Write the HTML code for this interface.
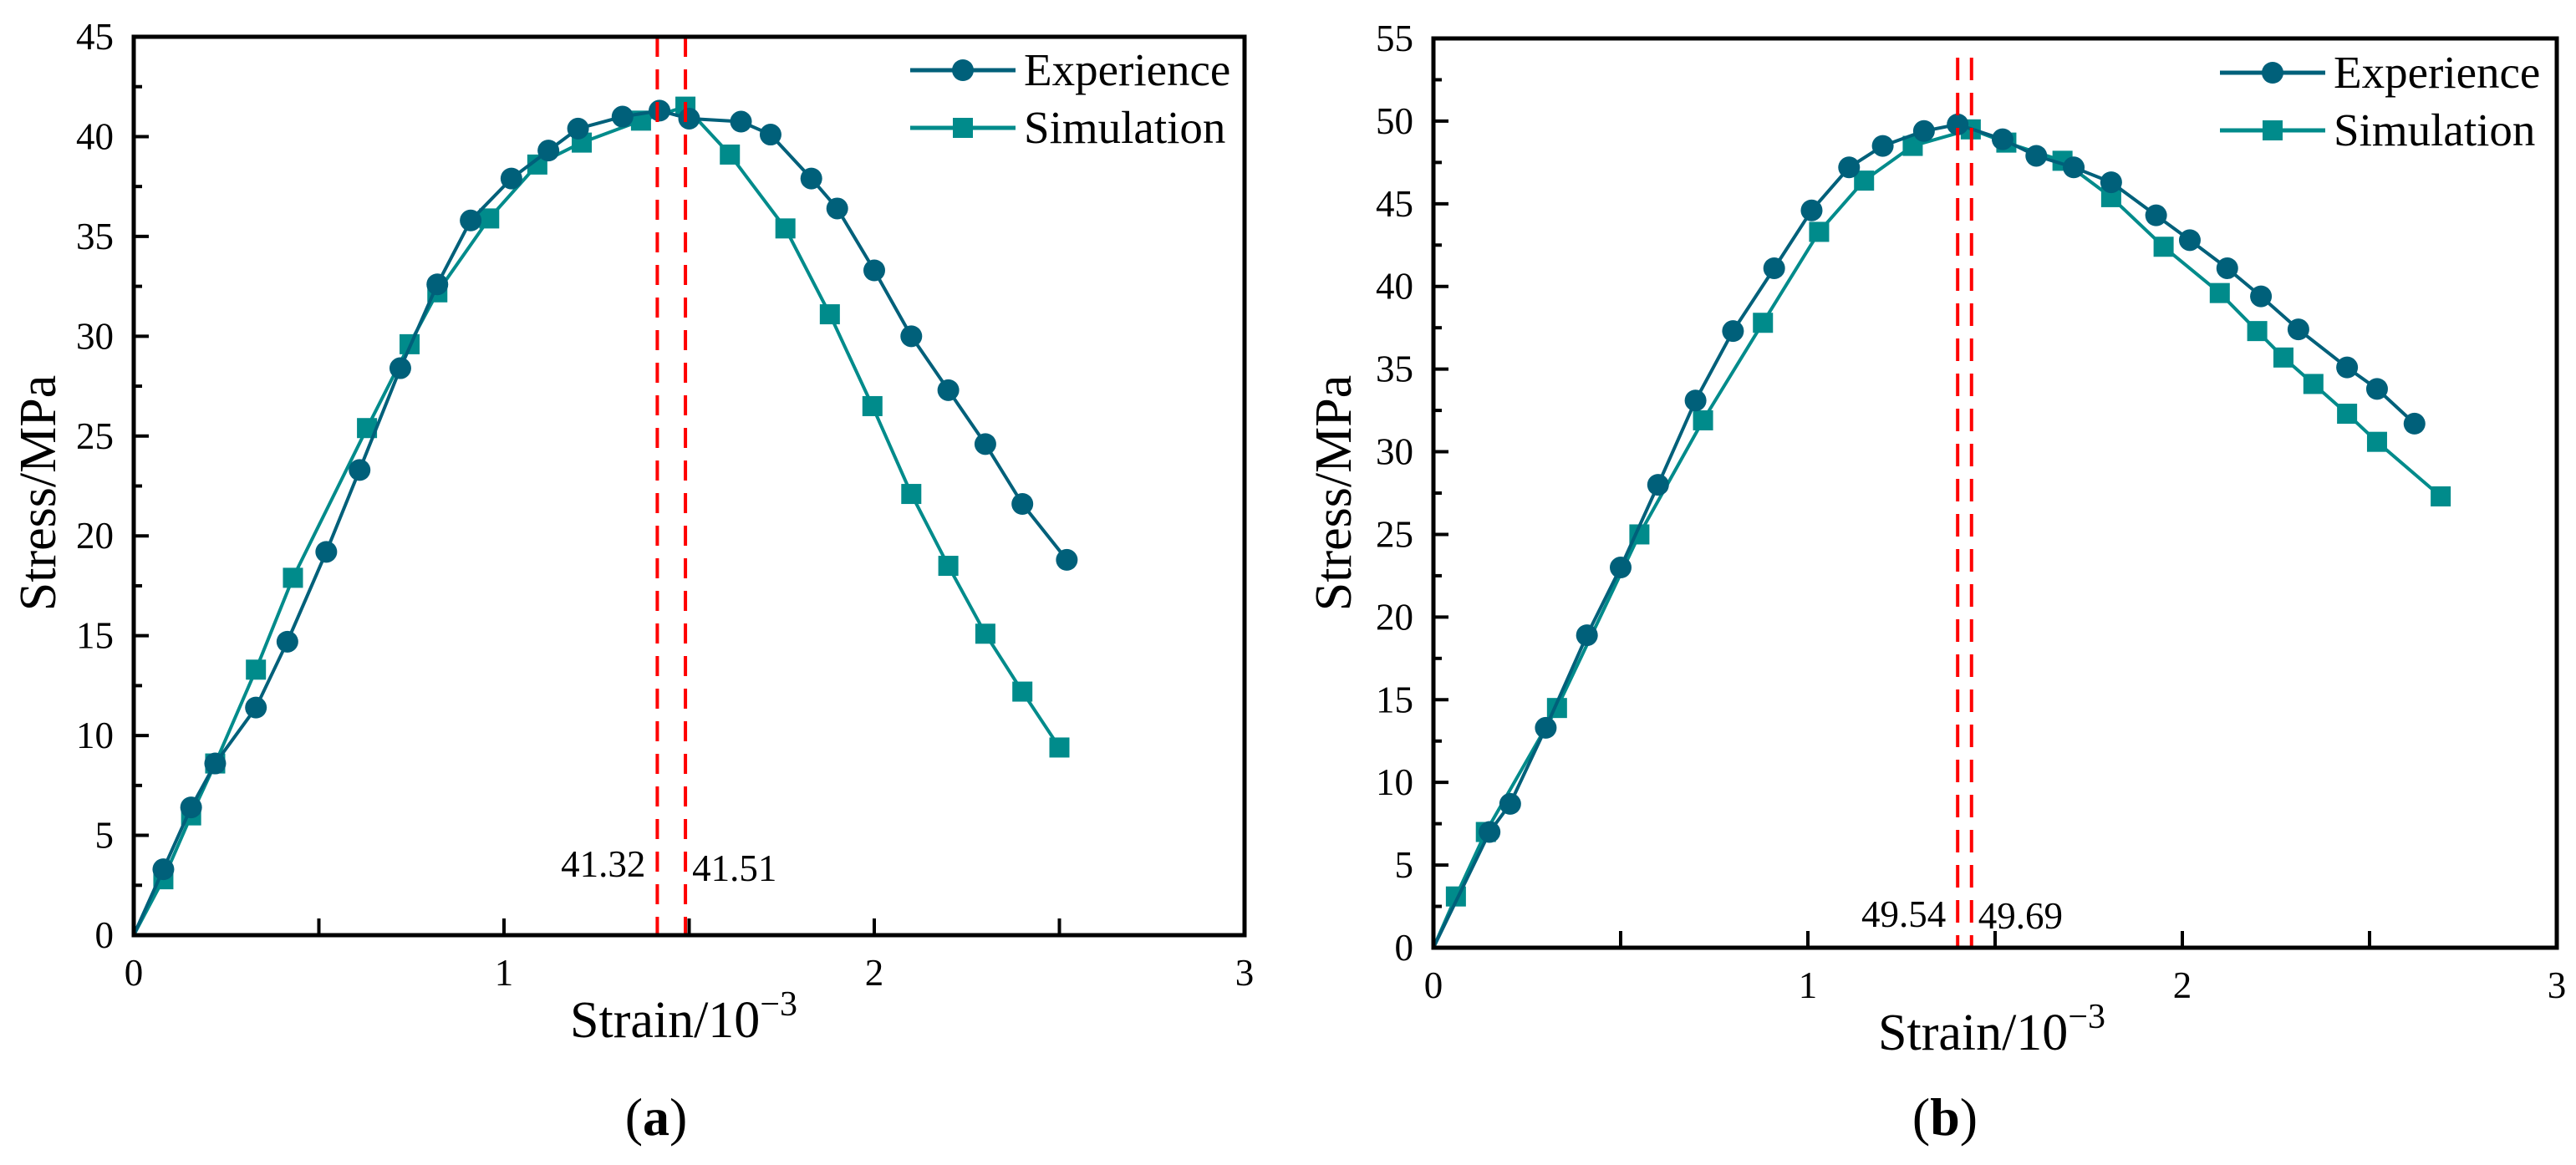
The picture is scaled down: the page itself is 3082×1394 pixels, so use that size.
<!DOCTYPE html>
<html><head><meta charset="utf-8"><style>
html,body{margin:0;padding:0;background:#fff;}
svg{display:block;font-family:"Liberation Serif",serif;}
</style></head><body>
<svg id="root" width="3082" height="1394" viewBox="0 0 3082 1394" xmlns="http://www.w3.org/2000/svg"></svg>
<script>
// ---- data ----
const expA_x=[0,0.08,0.155,0.22,0.33,0.415,0.52,0.61,0.72,0.82,0.91,1.02,1.12,1.20,1.32,1.42,1.50,1.64,1.72,1.83,1.90,2.00,2.10,2.20,2.30,2.40,2.52];
const expA_y=[0,3.3,6.4,8.6,11.4,14.7,19.2,23.3,28.4,32.6,35.8,37.9,39.3,40.4,41.0,41.3,40.9,40.75,40.1,37.9,36.4,33.3,30.0,27.3,24.6,21.6,18.8];
const simA_x=[0,0.08,0.155,0.22,0.33,0.43,0.63,0.745,0.82,0.96,1.09,1.21,1.37,1.49,1.61,1.76,1.88,1.995,2.10,2.20,2.30,2.40,2.50];
const simA_y=[0,2.8,6.0,8.6,13.3,17.9,25.4,29.6,32.2,35.9,38.6,39.7,40.8,41.5,39.1,35.4,31.1,26.5,22.1,18.5,15.1,12.2,9.4];
const expB_x=[0,0.15,0.205,0.30,0.41,0.50,0.60,0.70,0.80,0.91,1.01,1.11,1.20,1.31,1.40,1.52,1.61,1.71,1.81,1.93,2.02,2.12,2.21,2.31,2.44,2.52,2.62];
const expB_y=[0,7.0,8.7,13.3,18.9,23.0,28.0,33.1,37.3,41.1,44.6,47.2,48.5,49.4,49.8,48.9,47.9,47.2,46.3,44.3,42.8,41.1,39.4,37.4,35.1,33.8,31.7];
const simB_x=[0,0.06,0.14,0.33,0.55,0.72,0.88,1.03,1.15,1.28,1.435,1.53,1.68,1.81,1.95,2.10,2.20,2.27,2.35,2.44,2.52,2.69];
const simB_y=[0,3.1,7.0,14.5,25.0,31.9,37.8,43.3,46.4,48.5,49.5,48.7,47.6,45.4,42.4,39.6,37.3,35.7,34.1,32.3,30.6,27.3];
const peaksA=[1.414,1.49];
const peakLabelsA=["41.32","41.51"];
const peaksB=[1.40,1.437];
const peakLabelsB=["49.54","49.69"];
const xTicks=[0,1,2,3];
const yTicksA=[0,5,10,15,20,25,30,35,40,45];
const yTicksB=[0,5,10,15,20,25,30,35,40,45,50,55];

const NS="http://www.w3.org/2000/svg";
const root=document.getElementById('root');
function mk(tag,attrs,parent){const e=document.createElementNS(NS,tag);for(const k in attrs)e.setAttribute(k,attrs[k]);(parent||root).appendChild(e);return e;}
const CE="#00607a", CS="#008b8b";

function panel(cfg){
  const g=mk('g',{});
  
  
  const L=cfg.left,R=cfg.right,T=cfg.top,B=cfg.bottom;
  const sx=v=>L+(v-0)/3*(R-L);
  const sy=v=>B-(v/cfg.ymax)*(B-T);
  function series(xs,ys,color,shape,nm){
    const sg=mk('g',{},g);
    
    
    const pts=xs.map((x,i)=>sx(x).toFixed(1)+','+sy(ys[i]).toFixed(1)).join(' ');
    const pl=mk('polyline',{points:pts,fill:'none',stroke:color,'stroke-width':4,'stroke-linejoin':'round'},sg);
    
    
    xs.forEach((x,i)=>{
      if(i===0)return;
      let m;
      if(shape==='c') m=mk('circle',{cx:sx(x),cy:sy(ys[i]),r:13,fill:color},sg);
      else m=mk('rect',{x:sx(x)-12,y:sy(ys[i])-12,width:24,height:24,fill:color},sg);
      
      
    });
  }
  series(cfg.sx,cfg.sy,CS,'s',cfg.name+'-simulation');
  series(cfg.ex,cfg.ey,CE,'c',cfg.name+'-experience');
  cfg.peaks.forEach((p,i)=>{
    const ln=mk('line',{x1:sx(p),x2:sx(p),y1:cfg.dashTop,y2:B,stroke:'#ff0000','stroke-width':4,'stroke-dasharray':cfg.dash},g);
    
    
    const t=mk('text',{x:sx(p)+(i===0?-14:8),y:cfg.labY[i],'font-size':45,'text-anchor':i===0?'end':'start',fill:'#000'},g);
    t.textContent=cfg.peakLabels[i];
    
    
  });
  const fr=mk('rect',{x:L,y:T,width:R-L,height:B-T,fill:'none',stroke:'#000','stroke-width':5},g);
  
  
  for(let v=0;v<=3.001;v+=0.5){
    const t=mk('line',{x1:sx(v),x2:sx(v),y1:B,y2:B-20,stroke:'#000','stroke-width':4},g);
    
    
  }
  xTicks.forEach(v=>{
    const t=mk('text',{x:sx(v),y:B+60,'font-size':45,'text-anchor':'middle'},g);
    t.textContent=v;
    
    
  });
  cfg.yTicks.forEach((v,i)=>{
    const t=mk('line',{x1:L,x2:L+18,y1:sy(v),y2:sy(v),stroke:'#000','stroke-width':4},g);
    
    
    if(i<cfg.yTicks.length-1){
      const m=mk('line',{x1:L,x2:L+10,y1:sy(v+2.5),y2:sy(v+2.5),stroke:'#000','stroke-width':4},g);
      
      
    }
    const tl=mk('text',{x:L-24,y:sy(v)+15,'font-size':45,'text-anchor':'end'},g);
    tl.textContent=v;
    
    
  });
  const xt=mk('text',{x:cfg.xtX,y:B+122,'font-size':62,'text-anchor':'middle'},g);
  xt.innerHTML='Strain/10<tspan dy="-26" font-size="42">−3</tspan>';
  
  
  const yt=mk('text',{x:0,y:0,'font-size':62,'text-anchor':'middle',transform:`translate(${cfg.ytX},${cfg.ytY}) rotate(-90)`},g);
  yt.textContent='Stress/MPa';
  
  
  const cap=mk('text',{x:cfg.capX,y:1358,'font-size':64,'text-anchor':'middle'},g);
  cap.innerHTML='(<tspan font-weight="bold">'+cfg.cap+'</tspan>)';
  
  
  const lg=mk('g',{},g);
  
  
  [[CE,'c','Experience',cfg.legY[0]],[CS,'s','Simulation',cfg.legY[1]]].forEach(([c,s,lab,y])=>{
    const e=mk('g',{},lg);
    
    
    mk('line',{x1:cfg.legX,x2:cfg.legX+126,y1:y,y2:y,stroke:c,'stroke-width':5},e);
    if(s==='c')mk('circle',{cx:cfg.legX+63,cy:y,r:13,fill:c},e);
    else mk('rect',{x:cfg.legX+51,y:y-12,width:24,height:24,fill:c},e);
    const t=mk('text',{x:cfg.legX+136,y:y+18,'font-size':55},e);
    t.textContent=lab;
  });
}
panel({name:'chart-a',left:160,right:1489,top:44,bottom:1119,ymax:45,ex:expA_x,ey:expA_y,sx:simA_x,sy:simA_y,
  peaks:peaksA,peakLabels:peakLabelsA,labY:[1049,1054],dashTop:44,dash:'24 15',yTicks:yTicksA,
  xtX:818,ytX:66,ytY:590,capX:785,cap:'a',legX:1089,legY:[84,153]});
panel({name:'chart-b',left:1715,right:3059,top:46,bottom:1134,ymax:55,ex:expB_x,ey:expB_y,sx:simB_x,sy:simB_y,
  peaks:peaksB,peakLabels:peakLabelsB,labY:[1109,1111],dashTop:69,dash:'27 15',yTicks:yTicksB,
  xtX:2383,ytX:1616,ytY:590,capX:2327,cap:'b',legX:2656,legY:[87,156]});
</script>
</body></html>
